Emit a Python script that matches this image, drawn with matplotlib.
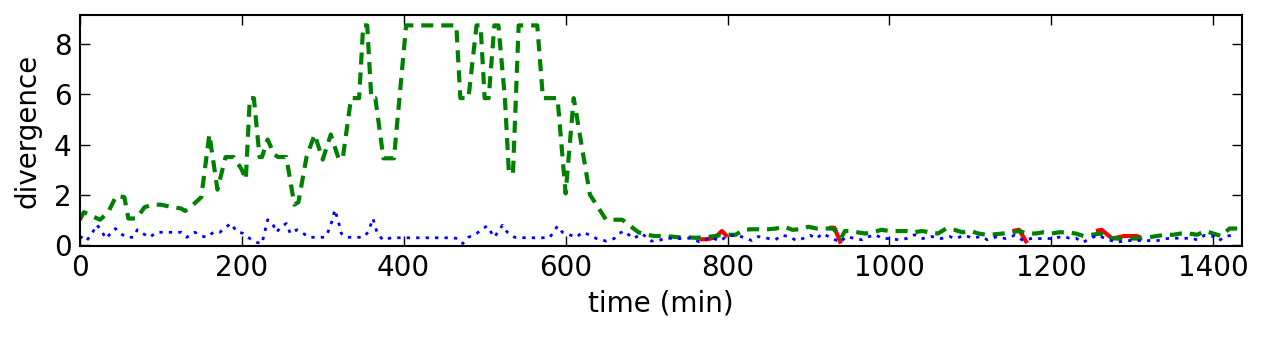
import numpy as np
import matplotlib
matplotlib.use('Agg')
import matplotlib.pyplot as plt

# green (dashed) series
green_t = [0, 5, 15, 25, 35, 45, 55, 60, 70, 80, 90, 100, 115, 125, 130, 140, 150,
           160, 170, 180, 190, 200, 205, 210, 215, 222, 225, 232, 240, 245, 255, 265,
           270, 280, 290, 300, 310, 320, 325, 335, 345, 350, 355, 360, 365, 375, 388,
           403, 465, 470, 480, 490, 495, 500, 505, 512, 517, 525, 530, 535, 542, 565,
           572, 590, 600, 610, 630, 640, 650, 660, 670, 680, 690, 700, 710, 720, 730,
           740, 750, 760, 770, 780, 790, 800, 810, 820, 830, 840, 850, 860, 870, 880,
           890, 900, 910, 920, 930, 935, 940, 945, 950, 960, 970, 980, 990, 1000, 1010,
           1020, 1030, 1040, 1050, 1060, 1070, 1080, 1090, 1100, 1110, 1120, 1130, 1140,
           1150, 1160, 1170, 1180, 1190, 1200, 1210, 1220, 1230, 1240, 1250, 1260, 1270,
           1280, 1290, 1300, 1310, 1320, 1330, 1340, 1350, 1360, 1370, 1380, 1390, 1400,
           1410, 1420, 1430]
green_v = [1.0, 1.3, 1.15, 1.0, 1.3, 1.95, 1.9, 1.05, 1.05, 1.5, 1.6, 1.6, 1.5, 1.45, 1.35, 1.6, 1.9,
           4.4, 2.2, 3.5, 3.5, 3.0, 2.6, 5.85, 5.85, 3.5, 3.5, 4.2, 3.6, 3.5, 3.5, 1.6,
           1.7, 3.5, 4.4, 3.4, 4.4, 3.4, 3.5, 5.85, 5.85, 8.75, 8.75, 5.85, 5.85, 3.45, 3.45,
           8.75, 8.75, 5.85, 5.85, 8.75, 8.75, 5.85, 5.85, 8.75, 8.75, 5.85, 2.85, 2.85, 8.75, 8.75,
           5.85, 5.85, 2.05, 5.85, 2.0, 1.5, 1.0, 1.0, 1.0, 0.75, 0.5, 0.4, 0.35, 0.35, 0.33,
           0.3, 0.3, 0.28, 0.3, 0.33, 0.38, 0.4, 0.4, 0.6, 0.62, 0.62, 0.62, 0.65, 0.72, 0.6,
           0.62, 0.72, 0.65, 0.65, 0.65, 0.5, 0.25, 0.55, 0.55, 0.5, 0.45, 0.5, 0.6, 0.55, 0.55,
           0.55, 0.5, 0.55, 0.5, 0.45, 0.65, 0.6, 0.5, 0.55, 0.45, 0.4, 0.42, 0.45,
           0.5, 0.55, 0.45, 0.45, 0.5, 0.45, 0.5, 0.5, 0.45, 0.35, 0.4, 0.45, 0.3,
           0.25, 0.25, 0.25, 0.25, 0.3, 0.35, 0.4, 0.4, 0.45, 0.45, 0.4, 0.55, 0.45,
           0.35, 0.65, 0.65]

# blue (dotted) series
blue_t = [0, 8, 15, 21, 27, 32, 38, 44, 50, 58, 66, 71, 78, 86, 95, 105, 115, 125, 132, 142,
          150, 157, 165, 173, 180, 187, 193, 202, 210, 218, 225, 232, 238, 243, 248, 255, 260,
          268, 274, 283, 293, 303, 307, 311, 315, 320, 323, 330, 350, 356, 362, 367, 374, 385,
          400, 420, 440, 460, 467, 473, 480, 490, 498, 503, 508, 512, 517, 522, 528, 537, 550,
          570, 580, 585, 590, 596, 605, 613, 621, 629, 638, 650, 660, 666, 672, 678, 684, 694,
          700, 706, 714, 723, 734, 744, 754, 765, 780, 790, 800, 812, 822, 830, 838, 848, 859,
          867, 876, 885, 893, 902, 910, 917, 930, 939, 947, 957, 966, 975, 983, 991, 1001, 1011,
          1021, 1031, 1041, 1052, 1064, 1074, 1082, 1092, 1103, 1113, 1121, 1133, 1143, 1155,
          1165, 1175, 1183, 1200, 1214, 1222, 1230, 1239, 1249, 1257, 1267, 1280, 1294, 1307,
          1319, 1331, 1343, 1351, 1362, 1372, 1380, 1389, 1401, 1407, 1415, 1425]
blue_v = [0.35, 0.15, 0.45, 0.8, 0.55, 0.25, 0.45, 0.65, 0.45, 0.3, 0.3, 0.6, 0.45, 0.3, 0.5, 0.5, 0.5, 0.5, 0.3, 0.5,
          0.35, 0.3, 0.5, 0.5, 0.7, 0.85, 0.55, 0.45, 0.25, 0.1, 0.05, 1.0, 0.85, 0.5, 0.7, 0.85, 0.45,
          0.6, 0.5, 0.3, 0.3, 0.3, 0.55, 0.9, 1.4, 0.85, 0.45, 0.3, 0.3, 0.5, 1.05, 0.5, 0.2, 0.28,
          0.28, 0.28, 0.28, 0.28, 0.25, 0.05, 0.3, 0.45, 0.65, 0.75, 0.5, 0.3, 0.55, 0.78, 0.5, 0.3, 0.28,
          0.28, 0.28, 0.5, 0.75, 0.5, 0.4, 0.3, 0.5, 0.4, 0.25, 0.15, 0.25, 0.45, 0.55, 0.4, 0.25, 0.45,
          0.3, 0.15, 0.15, 0.27, 0.25, 0.25, 0.27, 0.12, 0.3, 0.15, 0.35, 0.38, 0.27, 0.17, 0.33, 0.27, 0.2,
          0.38, 0.33, 0.17, 0.25, 0.38, 0.25, 0.45, 0.25, 0.1, 0.33, 0.25, 0.2, 0.33, 0.4, 0.25, 0.25, 0.2,
          0.25, 0.4, 0.25, 0.33, 0.25, 0.33, 0.25, 0.38, 0.27, 0.33, 0.2, 0.33, 0.25, 0.38,
          0.17, 0.25, 0.25, 0.25, 0.33, 0.27, 0.27, 0.1, 0.27, 0.38, 0.25, 0.1, 0.17, 0.17,
          0.17, 0.17, 0.25, 0.27, 0.25, 0.27, 0.2, 0.38, 0.33, 0.17, 0.33, 0.4]

# red (solid) series, only visible in a few stretches
red_t = [765, 775, 785, 793, 800, 801,
         925, 932, 940, 941,
         1152, 1160, 1170, 1171,
         1255, 1262, 1275, 1290, 1305, 1310]
red_v = [0.22, 0.22, 0.3, 0.55, 0.32, np.nan,
         0.68, 0.68, 0.05, np.nan,
         0.55, 0.6, 0.07, np.nan,
         0.55, 0.6, 0.25, 0.35, 0.35, 0.3]

fig = plt.figure(figsize=(12.67, 3.38), dpi=100)
ax = fig.add_axes([0.063, 0.272, 0.917, 0.684])

ax.plot(red_t, red_v, color='r', lw=3, solid_capstyle='butt')
ax.plot(green_t, green_v, color='g', lw=3, linestyle='--', dashes=(2.9, 1.9))
ax.plot(blue_t, blue_v, color='b', lw=2, linestyle=':', dashes=(1.2, 2.2))

ax.set_xlim(0, 1435)
ax.set_ylim(-0.05, 9.17)
ax.set_xticks(np.arange(0, 1401, 200))
ax.set_yticks(np.arange(0, 9, 2))
ax.tick_params(direction='in', top=True, right=True, length=7, width=1,
               labelsize=20, pad=6)
for s in ax.spines.values():
    s.set_linewidth(1.5)

ax.set_xlabel('time (min)', fontsize=20, labelpad=5)
ax.set_ylabel('divergence', fontsize=20, labelpad=9)

fig.savefig('out.png', dpi=100)
